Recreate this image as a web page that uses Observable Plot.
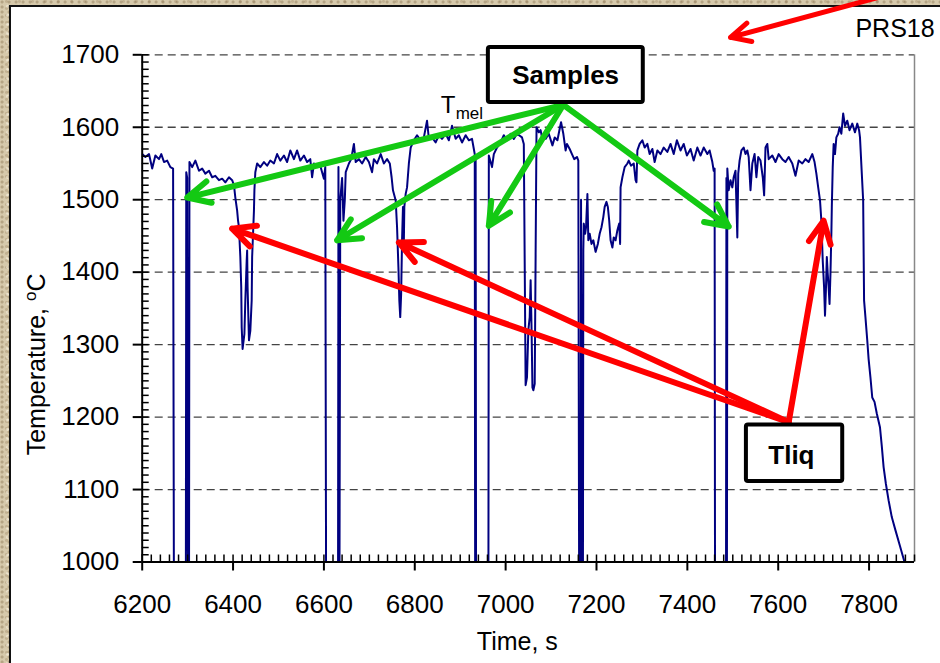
<!DOCTYPE html>
<html><head><meta charset="utf-8">
<script src="https://cdn.jsdelivr.net/npm/d3@7"></script>
<script src="https://cdn.jsdelivr.net/npm/@observablehq/plot@0.6"></script>
<style>
html,body{margin:0;padding:0;width:940px;height:663px;overflow:hidden;
  background-color:#d6c9ab;
  background-image:
    radial-gradient(circle at 30% 40%, rgba(120,95,60,.35) 0 1px, transparent 2px),
    radial-gradient(circle at 70% 70%, rgba(255,250,235,.55) 0 1px, transparent 2px),
    radial-gradient(circle at 50% 20%, rgba(150,125,90,.3) 0 1px, transparent 2px);
  background-size:7px 5px, 11px 9px, 13px 7px;}
#panel{position:absolute;left:9px;top:5px;width:960px;height:700px;background:#fff;border:2px solid #111;}
#chart{position:absolute;left:0;top:0;}
</style></head>
<body><div id="panel"></div><div id="chart"></div>
<script>
// ---- data: time (s) and temperature (°C); 900 = reading below axis (off scale)
const timeS = [
 6200,6207,6215,6222,6229,6237,6242,6248,6255,6262,6268,6270,
 6296,6297,6299,6301,6303,6304,6310,6317,6325,6332,6339,6347,6354,6361,6369,6376,6383,6391,6398,6402,
 6405,6409,6411,6413,6416,6418,6419,6421,6425,6427,6430,6431,6432,6435,6438,6441,6442,6444,6446,6447,6449,
 6453,6460,6468,6475,6482,6490,6497,6504,6512,6519,6526,6534,6541,6548,6556,6563,6570,6574,6578,6585,6592,6600,6603,6605,
 6631,6632,6634,6636,6640,6643,6646,6648,6655,6660,6666,6670,6677,6684,6692,6699,6706,6710,6717,6725,6732,6739,6745,
 6749,6752,6758,6761,6764,6766,6768,6770,6772,6774,6776,6777,6780,6783,6787,
 6791,6798,6805,6813,6820,6827,6831,6838,6846,6853,6860,6868,6875,6882,6890,6897,6904,6912,6919,6926,6930,6932,6933,6934,6935,
 6962,6963,6967,6970,6974,6981,6989,6996,7003,7011,7018,7025,7036,7040,
 7044,7047,7050,7053,7055,7057,7059,7061,7064,
 7068,7073,7077,7080,7088,7095,7103,7108,7114,7119,7122,7127,7132,7135,7141,7146,7151,7157,7160,7162,
 7165,7166,7168,7170,7171,7172,7175,7177,7180,7182,7185,7189,7193,7198,7203,7207,7211,7215,7218,7222,7225,7228,7231,7235,7238,7242,7246,7250,7252,
 7253,7257,7262,7268,7271,7276,7282,7286,7288,7290,7295,7301,7306,7312,7317,7323,7328,7334,7341,7348,7356,7363,7370,7377,7385,7392,7399,7407,7414,7422,7429,7436,7444,7449,7455,7458,7460,7461,
 7485,7486,7487,7488,7491,7495,7499,7502,7506,7510,7512,7515,7519,7524,7528,7532,7535,7539,7543,7548,7552,7556,7561,7566,7569,7572,7576,7579,7587,7594,7601,7609,7616,7623,7631,7638,7645,7653,7660,7667,7675,7680,
 7684,7688,7692,7695,7698,7701,7703,7705,7707,7709,7711,7713,7715,7717,7718,7720,
 7722,7725,7728,7732,7735,7739,7743,7747,7752,7757,7763,7769,7774,7778,7780,7784,7787,
 7789,7792,7796,7799,7803,7807,7812,7817,7824,7828,7832,7837,7843,7850,7858,7868,7878,7886
];
const tempC = [
 1563,1559,1563,1543,1561,1556,1563,1552,1554,1545,1543,900,
 900,1538,1530,900,900,1552,1545,1554,1540,1543,1536,1540,1531,1533,1527,1529,1524,1531,1527,1520,
 1503,1485,1471,1462,1421,1379,1324,1294,1315,1361,1416,1430,1379,1306,1319,1361,1421,1453,1485,1513,1538,
 1550,1545,1552,1547,1554,1550,1563,1554,1561,1552,1568,1556,1568,1554,1561,1552,1556,1531,1550,1545,1547,1529,1545,900,
 900,1545,900,1500,1530,1471,1500,1538,1550,1556,1577,1552,1556,1550,1559,1552,1538,1556,1550,1563,1550,1556,1550,
 1531,1513,1499,1462,1407,1361,1338,1370,1444,1490,1444,1490,1508,1517,1550,
 1572,1582,1589,1582,1586,1609,1584,1586,1579,1589,1584,1591,1582,1602,1584,1589,1579,1589,1582,1584,1570,1563,900,1560,900,
 900,1561,1552,1545,1563,1572,1579,1589,1582,1591,1584,1591,1586,1577,
 1244,1255,1320,1338,1389,1324,1241,1237,1246,
 1600,1593,1596,1586,1584,1591,1575,1586,1582,1598,1607,1591,1568,1577,1570,1563,1556,1559,1554,900,
 900,1500,900,900,1430,1467,1453,1462,1508,1444,1453,1439,1444,1428,1439,1453,1462,1476,1490,1497,1490,1471,1444,1434,1448,1444,1458,1467,1439,
 1517,1531,1545,1550,1554,1547,1550,1527,1524,1568,1577,1582,1572,1577,1563,1570,1552,1568,1563,1572,1566,1577,1563,1582,1568,1577,1561,1570,1554,1572,1561,1572,1563,1568,1552,1540,1543,900,
 900,1530,900,1543,1513,1527,1517,1531,1540,1448,1536,1554,1568,1572,1563,1568,1559,1513,1550,1563,1531,1559,1554,1531,1506,1572,1577,1556,1561,1552,1563,1556,1552,1559,1550,1533,1554,1550,1556,1552,1563,1552,
 1536,1517,1499,1471,1416,1379,1340,1375,1421,1398,1379,1356,1398,1453,1490,1545,
 1577,1563,1586,1591,1600,1591,1619,1602,1609,1596,1605,1593,1605,1596,1586,1536,1499,
 1361,1338,1306,1280,1255,1227,1221,1205,1186,1160,1131,1108,1085,1062,1044,1022,1000,985
];

// ---- axes
const xDomain = [6200, 7900];
const yDomain = [1000, 1700];
const xMajor = [6200, 6400, 6600, 6800, 7000, 7200, 7400, 7600, 7800];
const yMajor = [1000, 1100, 1200, 1300, 1400, 1500, 1600, 1700];
const yGrid  = [1100, 1200, 1300, 1400, 1500, 1600, 1700];
const xMinor = d3.range(6200, 7901, 20);
const yMinor = d3.range(1000, 1701, 10);

// ---- annotations (data coordinates)
const greenFrom = [7127, 1631];
const greenToT  = [6299, 6629, 6963, 7491];
const greenToC  = [1503, 1444, 1464, 1463];
const redFrom   = [7623, 1193];
const redToT    = [6398, 6765, 7700];
const redToC    = [1460, 1441, 1471];
const topArrow  = {x1: 7878, y1: 1789, x2: 7495, y2: 1724};
const boxNames  = ["Samples", "Tliq"];
const boxX1 = [6962, 7530], boxX2 = [7303, 7742];
const boxY1 = [1634, 1111], boxY2 = [1710, 1189];
const boxTextT = [7132, 7629], boxTextC = [1660, 1135.5];

const series = timeS.map((t, i) => ({t, T: tempC[i]}));
const greenArrows = greenToT.map((t, i) => ({x1: greenFrom[0], y1: greenFrom[1], x2: t, y2: greenToC[i]}));
const redArrows = redToT.map((t, i) => ({x1: redFrom[0], y1: redFrom[1], x2: t, y2: redToC[i]}));
const boxes = boxNames.map((n, i) => ({n, x1: boxX1[i], x2: boxX2[i], y1: boxY1[i], y2: boxY2[i], tx: boxTextT[i], ty: boxTextC[i]}));

const W = 940, H = 663;
const mL = 141.7, mT = 54.3, mR = 26, mB = 101.5;
const pw = W - mL - mR, ph = H - mT - mB;
const FONT = "'Liberation Sans', Arial, Helvetica, sans-serif";

const chart = Plot.plot({
  width: W, height: H,
  marginLeft: mL, marginTop: mT, marginRight: mR, marginBottom: mB,
  x: {domain: xDomain},
  y: {domain: yDomain},
  style: {background: "transparent", fontFamily: FONT, overflow: "visible", color: "black"},
  marks: [
    Plot.ruleY(yGrid, {stroke: "#444", strokeWidth: 1.3, strokeDasharray: "8,5"}),
    Plot.ruleX([xDomain[1]], {stroke: "#888", strokeWidth: 1.5}),
    Plot.line(series, {x: "t", y: "T", stroke: "#000080", strokeWidth: 2, clip: true}),
    Plot.ruleX([xDomain[0]], {stroke: "black", strokeWidth: 2}),
    Plot.ruleY([yDomain[0]], {stroke: "black", strokeWidth: 2}),
    Plot.tickY(yMinor, {y: d => d, stroke: "black", strokeWidth: 1.5, insetRight: pw - 7}),
    Plot.tickX(xMinor, {x: d => d, stroke: "black", strokeWidth: 1.5, insetTop: ph - 7}),
    Plot.axisY({ticks: yMajor, tickSize: 9, tickPadding: 14, fontSize: 26, label: null,
      tickFormat: d => String(d), color: "black", strokeWidth: 2}),
    Plot.axisX({ticks: xMajor, tickSize: 9, tickPadding: 24, fontSize: 26, label: null,
      tickFormat: d => String(d), color: "black", strokeWidth: 2}),
    Plot.text(["Temperature, oC"], {frameAnchor: "left", text: d => d, rotate: -90, dx: -97.7, dy: 56,
      lineAnchor: "bottom", textAnchor: "middle", fontSize: 25, fill: "black"}),
    Plot.text(["Time, s"], {frameAnchor: "bottom", text: d => d, dx: -11, dy: 87.5,
      lineAnchor: "bottom", textAnchor: "middle", fontSize: 25, fill: "black"}),
    Plot.text(["PRS18"], {x: 7770, y: 1724, text: d => d, textAnchor: "start", lineAnchor: "bottom", fontSize: 25, fill: "black"}),
    Plot.text(["T"], {x: 6857, y: 1619.4, text: d => d, textAnchor: "start", lineAnchor: "bottom", fontSize: 24, fill: "black"}),
    Plot.text(["mel"], {x: 6890, y: 1611.7, text: d => d, textAnchor: "start", lineAnchor: "bottom", fontSize: 17, fill: "black"}),
    Plot.arrow(greenArrows, {x1: "x1", y1: "y1", x2: "x2", y2: "y2", stroke: "#13c913", strokeWidth: 6,
      headLength: 6.25, headAngle: 52, strokeLinecap: "round", strokeLinejoin: "round"}),
    Plot.arrow(redArrows, {x1: "x1", y1: "y1", x2: "x2", y2: "y2", stroke: "#ff0000", strokeWidth: 6,
      headLength: 6.25, headAngle: 52, strokeLinecap: "round", strokeLinejoin: "round"}),
    Plot.arrow([topArrow], {x1: "x1", y1: "y1", x2: "x2", y2: "y2", stroke: "#ff0000", strokeWidth: 5,
      headLength: 6.5, headAngle: 52, strokeLinecap: "round", strokeLinejoin: "round"}),
    Plot.rect(boxes, {x1: "x1", x2: "x2", y1: "y1", y2: "y2", fill: "white", stroke: "black", strokeWidth: 4, rx: 2}),
    Plot.text(boxes, {x: "tx", y: "ty", text: "n", fontWeight: "bold", fontSize: 26, lineAnchor: "bottom", fill: "black"})
  ]
});
document.getElementById("chart").appendChild(chart);

// superscript "o" in the y-axis title
const NS = "http://www.w3.org/2000/svg";
chart.querySelectorAll("text").forEach(el => {
  if (el.textContent === "Temperature, oC") {
    el.textContent = "";
    const a = document.createElementNS(NS, "tspan"); a.textContent = "Temperature, "; el.appendChild(a);
    const b = document.createElementNS(NS, "tspan"); b.textContent = "o"; b.setAttribute("dy", "-9"); b.setAttribute("font-size", "17"); el.appendChild(b);
    const c = document.createElementNS(NS, "tspan"); c.textContent = "C"; c.setAttribute("dy", "9"); el.appendChild(c);
  }
});
</script>
</body></html>
